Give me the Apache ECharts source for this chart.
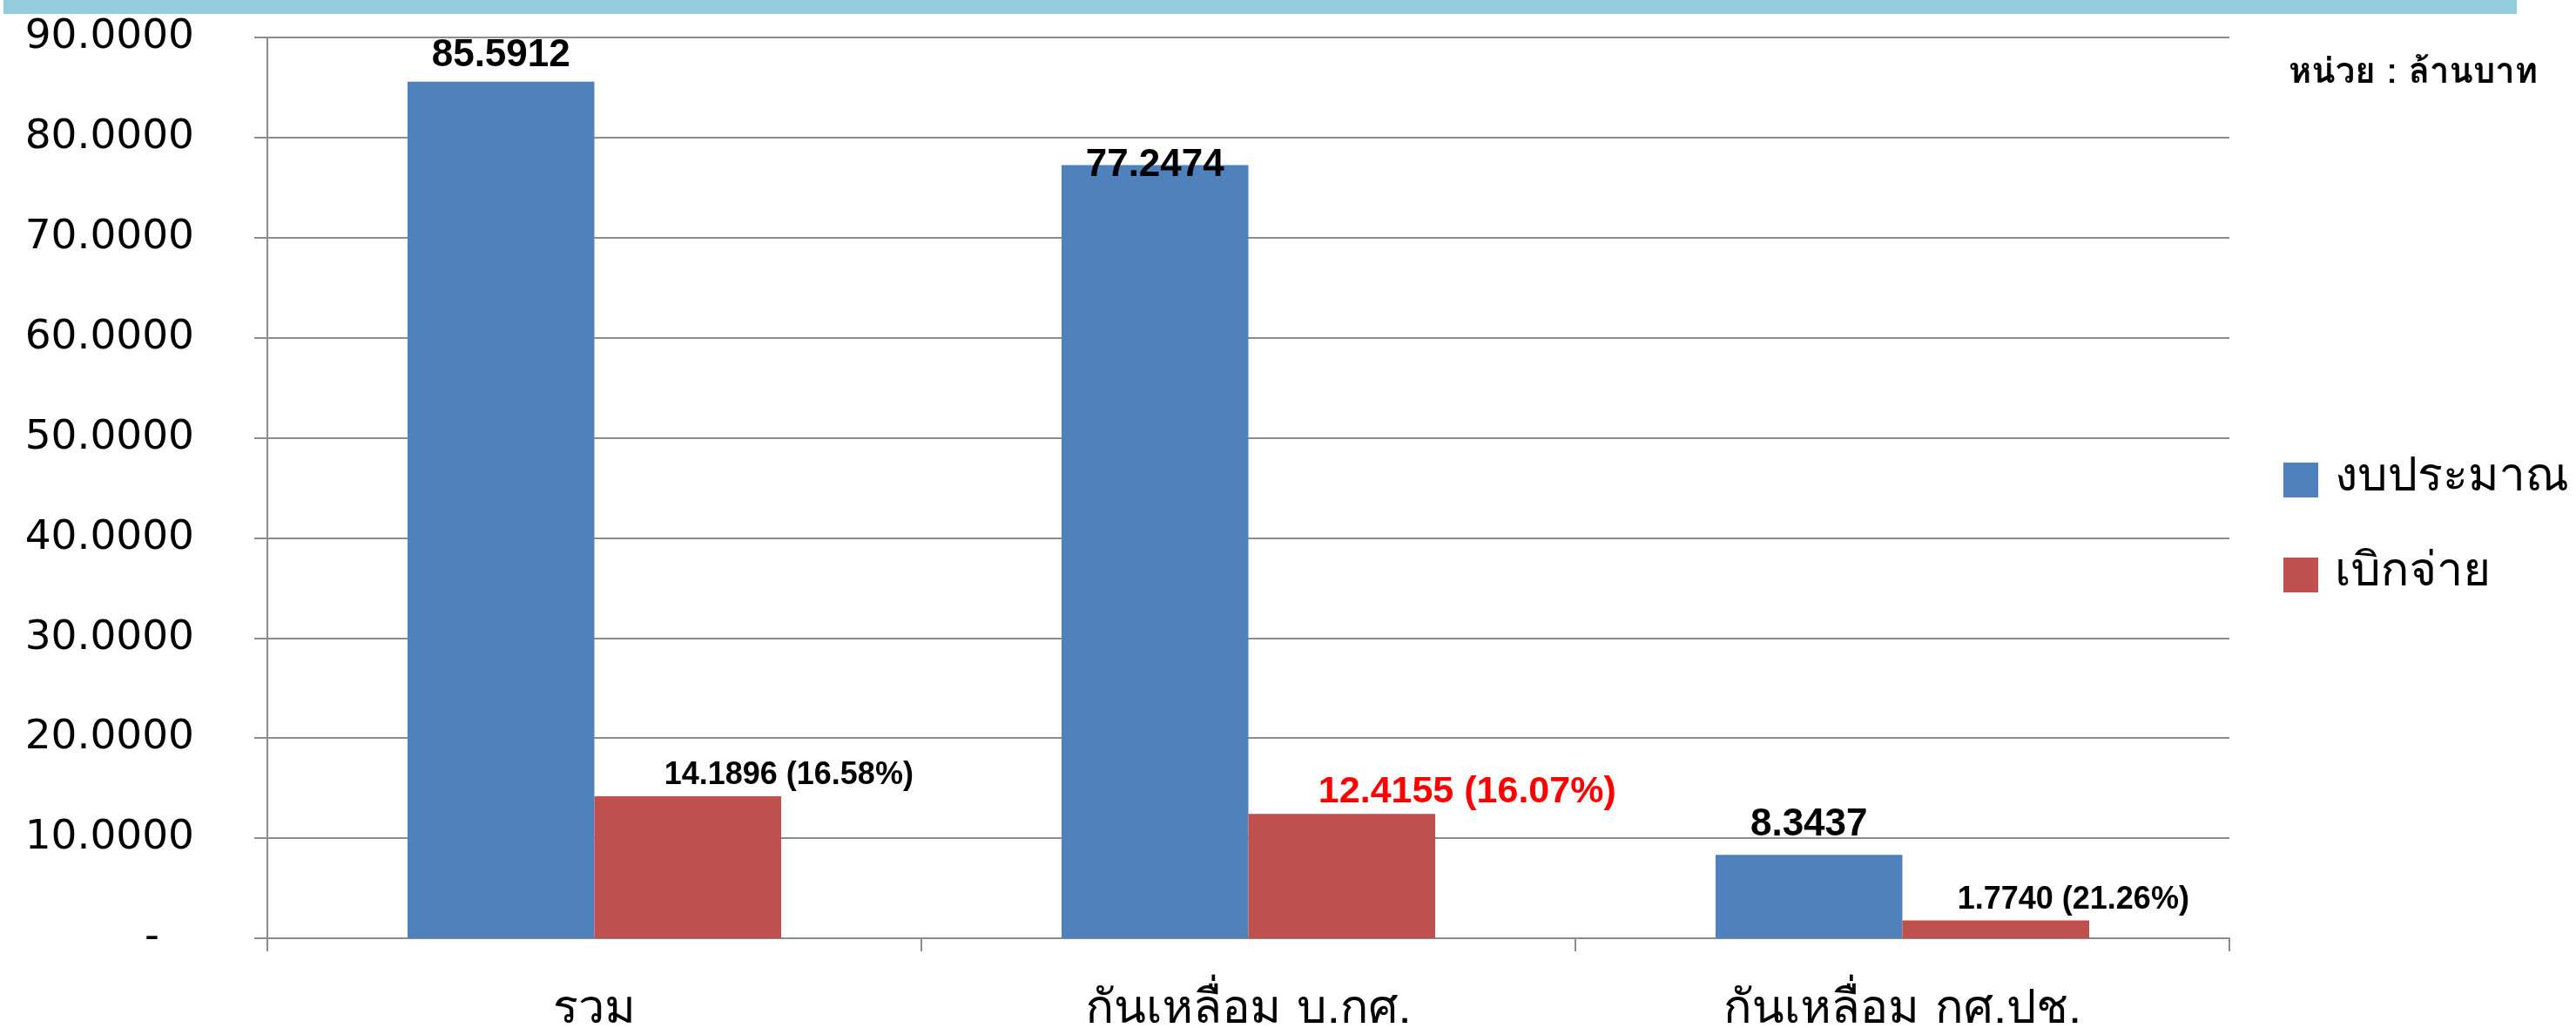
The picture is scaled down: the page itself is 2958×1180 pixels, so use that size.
<!DOCTYPE html>
<html>
<head>
<meta charset="utf-8">
<title>งบประมาณ / เบิกจ่าย</title>
<script src="https://cdn.jsdelivr.net/npm/echarts@6/dist/echarts.min.js"></script>
<style>
  html, body { margin: 0; padding: 0; background: #fff; }
  #chart { width: 2958px; height: 1180px; }
</style>
</head>
<body>
<div id="chart"></div>
<script>
// ข้อมูล (ล้านบาท)
var categories = ['รวม', 'กันเหลื่อม บ.กศ.', 'กันเหลื่อม กศ.ปช.'];
var budget = [85.5912, 77.2474, 8.3437];
var spent = [14.1896, 12.4155, 1.7740];
var seriesNames = ['งบประมาณ', 'เบิกจ่าย'];
var unitText = 'หน่วย : ล้านบาท';

// label nudges, like the hand-moved labels in the excel chart
var budgetLabelShift = [[0, 0], [0, 30], [0, -4]];
var spentLabelShift = [[116, 0], [144, 2], [89, 0]];

var thaiFont = "Loma, 'Noto Sans', sans-serif";
var numFont = "'Liberation Sans', Arial, sans-serif";
var gridColor = '#8c8c8c';

var chart = echarts.init(document.getElementById('chart'));

var budgetData = budget.map(function (v, i) {
  return {
    value: v,
    label: { offset: budgetLabelShift[i] }
  };
});
var spentData = spent.map(function (v, i) {
  var item = { value: v, label: { offset: spentLabelShift[i] } };
  if (i === 1) {
    // the highlighted one is red and bigger
    item.label.color = '#ff0000';
    item.label.fontSize = 43;
  }
  return item;
});

var option = {
  backgroundColor: '#fff',
  animation: false,
  graphic: [
    {
      type: 'rect',
      shape: { x: 4, y: 0, width: 2886, height: 16 },
      style: { fill: '#93cddd' }
    },
    {
      type: 'text',
      left: 2628,
      top: 66,
      style: {
        text: unitText,
        font: 'bold 40px ' + thaiFont,
        fill: '#000'
      }
    }
  ],
  legend: {
    orient: 'vertical',
    left: 2617,
    top: 519,
    itemWidth: 40,
    itemHeight: 40,
    itemGap: 55,
    icon: 'rect',
    textStyle: {
      fontSize: 54,
      fontFamily: thaiFont,
      color: '#000',
      padding: [0, 0, 0, 14]
    },
    data: seriesNames
  },
  grid: {
    left: 307,
    right: 398,
    top: 43,
    bottom: 103,
    containLabel: false,
    outerBoundsMode: 'none'
  },
  xAxis: {
    type: 'category',
    data: categories,
    axisLine: { show: true, lineStyle: { color: gridColor, width: 2 } },
    axisTick: { show: true, length: 15, lineStyle: { color: gridColor, width: 2 } },
    axisLabel: {
      margin: 58,
      fontSize: 54,
      fontFamily: thaiFont,
      color: '#000'
    }
  },
  yAxis: {
    type: 'value',
    min: 0,
    max: 90,
    interval: 10,
    axisLine: { show: true, lineStyle: { color: gridColor, width: 2 } },
    axisTick: { show: true, length: 15, lineStyle: { color: gridColor, width: 2 } },
    splitLine: { show: true, lineStyle: { color: gridColor, width: 2 } },
    axisLabel: {
      margin: 84,
      fontSize: 47,
      fontFamily: "'DejaVu Sans', sans-serif",
      color: '#000',
      formatter: function (v) {
        return v === 0 ? '{z|-}' : v.toFixed(4);
      },
      rich: {
        z: { fontSize: 47, fontFamily: "'DejaVu Sans', sans-serif", padding: [0, 40, 0, 0] }
      }
    }
  },
  series: [
    {
      name: seriesNames[0],
      type: 'bar',
      barWidth: '28.57%',
      barGap: '0%',
      itemStyle: { color: '#4f81bd' },
      label: {
        show: true,
        position: 'top',
        distance: 8,
        fontSize: 44,
        fontWeight: 'bold',
        fontFamily: numFont,
        color: '#000',
        formatter: function (p) { return p.value.toFixed(4); }
      },
      data: budgetData
    },
    {
      name: seriesNames[1],
      type: 'bar',
      barWidth: '28.57%',
      itemStyle: { color: '#c0504d' },
      label: {
        show: true,
        position: 'top',
        distance: 6,
        fontSize: 36,
        fontWeight: 'bold',
        fontFamily: numFont,
        color: '#000',
        formatter: function (p) {
          var pct = p.value / budget[p.dataIndex] * 100;
          return p.value.toFixed(4) + ' (' + pct.toFixed(2) + '%)';
        }
      },
      data: spentData
    }
  ]
};

option && chart.setOption(option);
</script>
</body>
</html>
